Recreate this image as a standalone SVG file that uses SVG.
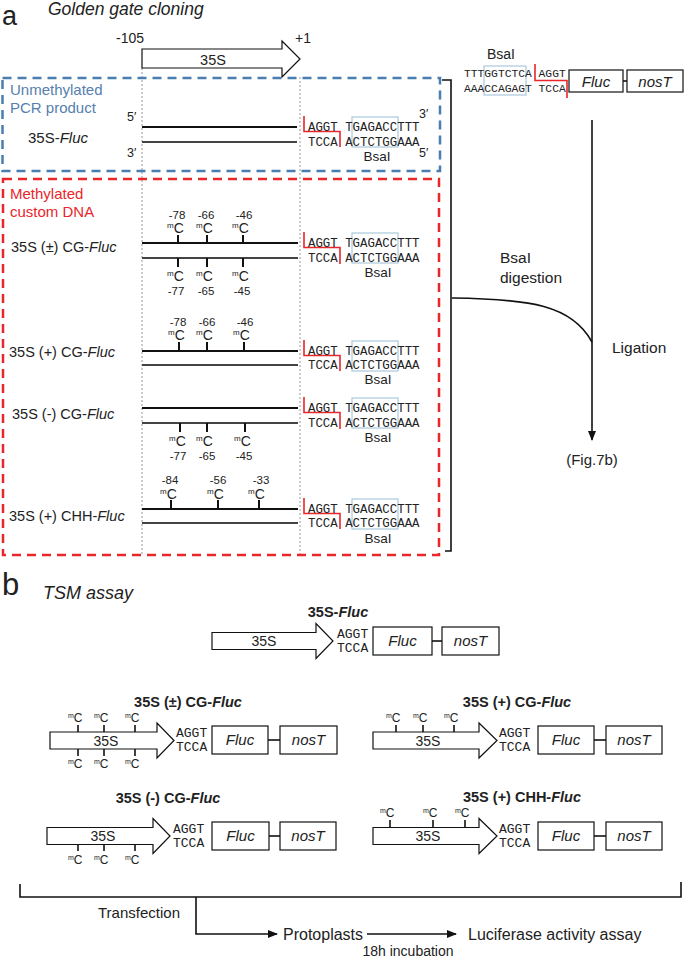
<svg xmlns="http://www.w3.org/2000/svg" width="685" height="958" viewBox="0 0 685 958">
<style>
text{font-family:"Liberation Sans",Arial,sans-serif;fill:#222}
.seq{font-family:"Liberation Mono","Courier New",monospace;font-size:12.4px}
.seqr{font-family:"Liberation Mono","Courier New",monospace;font-size:11.3px}
.seqb{font-family:"Liberation Mono","Courier New",monospace;font-size:13px}
.lbl{font-size:14.5px}
.bs{font-size:13.5px;text-anchor:middle}
.num{font-size:11.5px;text-anchor:middle}
.i{font-style:italic}
.s1{stroke:#111;stroke-width:2}
.s2{stroke:#444;stroke-width:2}
.tick{stroke:#111;stroke-width:2}
.tk{stroke:#111;stroke-width:1.6}
.cut{fill:none;stroke:#e8262b;stroke-width:1.6}
.site{fill:none;stroke:#a9c9dc;stroke-width:1.2}
.dot{stroke:#999;stroke-width:1;stroke-dasharray:2,2}
.arr{fill:#fff;stroke:#111;stroke-width:1.2}
.box{fill:#fff;stroke:#111;stroke-width:1.2}
.con{fill:none;stroke:#111;stroke-width:1.6}
.bt{font-size:14.5px;font-weight:bold;text-anchor:middle}
.gn{font-size:15px;font-style:italic;text-anchor:middle}
.p35{font-size:14px;text-anchor:middle}
</style>
<defs>
<marker id="ah" markerWidth="10" markerHeight="10" refX="9" refY="5" orient="auto" markerUnits="userSpaceOnUse">
<path d="M0,1 L10,5 L0,9 Z" fill="#111"/>
</marker>
</defs>

<g id="title-a">
<text x="2" y="24.5" font-size="27">a</text>
<text x="48" y="15" font-size="17.5" class="i">Golden gate cloning</text>
</g>

<g id="guides">
<line x1="142" y1="68" x2="142" y2="556" class="dot"/>
<line x1="300" y1="77" x2="300" y2="556" class="dot"/>
</g>

<g id="promoter-a">
<path d="M142,49 H282 V41 L300,59 L282,77 V68 H142 Z" class="arr"/>
<text x="213" y="65" font-size="14.5" text-anchor="middle">35S</text>
<text x="116" y="43" font-size="14">-105</text>
<text x="295" y="43" font-size="14">+1</text>
</g>

<g id="unmethylated">
<rect x="2.5" y="78" width="437.5" height="93" fill="none" stroke="#4a7db0" stroke-width="2.5" stroke-dasharray="9,6"/>
<text x="10" y="95" font-size="15" style="fill:#5580b0">Unmethylated</text>
<text x="10" y="113" font-size="15" style="fill:#5580b0">PCR product</text>
<text x="28" y="143" font-size="15">35S-<tspan class="i">Fluc</tspan></text>
<text x="127" y="121" font-size="12.5">5′</text>
<text x="127" y="157" font-size="12.5">3′</text>
<line x1="142" y1="127" x2="297" y2="127" class="s1"/>
<line x1="142" y1="142" x2="297" y2="142" class="s2"/>
<path d="M304,116 V131.5 H340 V147" class="cut"/>
<rect x="352" y="117" width="46" height="30" class="site"/>
<text x="308" y="131" class="seq">AGGT TGAGACCTTT</text>
<text x="308" y="146" class="seq">TCCA ACTCTGGAAA</text>
<text x="377" y="161" class="bs">BsaI</text>
<text x="419" y="118" font-size="12.5">3′</text>
<text x="419" y="157" font-size="12.5">5′</text>
</g>

<g id="methylated">
<rect x="3" y="179" width="436" height="376" fill="none" stroke="#e8262b" stroke-width="2.5" stroke-dasharray="9,6"/>
<text x="10" y="199" font-size="15" style="fill:#e8262b">Methylated</text>
<text x="10" y="217" font-size="15" style="fill:#e8262b">custom DNA</text>
</g>

<g id="g1">
<text x="11" y="252" class="lbl">35S (±) CG-<tspan class="i">Fluc</tspan></text>
<line x1="142" y1="243" x2="298" y2="243" class="s1"/>
<line x1="142" y1="258" x2="298" y2="258" class="s2"/>
<line x1="178" y1="235" x2="178" y2="243" class="tick"/>
<line x1="207" y1="235" x2="207" y2="243" class="tick"/>
<line x1="243" y1="235" x2="243" y2="243" class="tick"/>
<text x="167" y="233"><tspan font-size="8" dy="-5">m</tspan><tspan font-size="14" dy="5">C</tspan></text>
<text x="196" y="233"><tspan font-size="8" dy="-5">m</tspan><tspan font-size="14" dy="5">C</tspan></text>
<text x="232" y="233"><tspan font-size="8" dy="-5">m</tspan><tspan font-size="14" dy="5">C</tspan></text>
<text x="177" y="219" class="num">-78</text>
<text x="206" y="219" class="num">-66</text>
<text x="244" y="219" class="num">-46</text>
<line x1="178" y1="258" x2="178" y2="267" class="tick"/>
<line x1="207" y1="258" x2="207" y2="267" class="tick"/>
<line x1="243" y1="258" x2="243" y2="267" class="tick"/>
<text x="167" y="281"><tspan font-size="8" dy="-5">m</tspan><tspan font-size="14" dy="5">C</tspan></text>
<text x="196" y="281"><tspan font-size="8" dy="-5">m</tspan><tspan font-size="14" dy="5">C</tspan></text>
<text x="232" y="281"><tspan font-size="8" dy="-5">m</tspan><tspan font-size="14" dy="5">C</tspan></text>
<text x="176" y="295" class="num">-77</text>
<text x="206" y="295" class="num">-65</text>
<text x="242" y="295" class="num">-45</text>
<path d="M304,232 V247.5 H340 V264" class="cut"/>
<rect x="352" y="233" width="46" height="30" class="site"/>
<text x="308" y="247" class="seq">AGGT TGAGACCTTT</text>
<text x="308" y="262" class="seq">TCCA ACTCTGGAAA</text>
<text x="378" y="277" class="bs">BsaI</text>
</g>

<g id="g2">
<text x="9" y="357" class="lbl">35S (+) CG-<tspan class="i">Fluc</tspan></text>
<line x1="142" y1="351" x2="298" y2="351" class="s1"/>
<line x1="142" y1="365" x2="298" y2="365" class="s2"/>
<line x1="179" y1="342" x2="179" y2="351" class="tick"/>
<line x1="207" y1="342" x2="207" y2="351" class="tick"/>
<line x1="244" y1="342" x2="244" y2="351" class="tick"/>
<text x="168" y="340"><tspan font-size="8" dy="-5">m</tspan><tspan font-size="14" dy="5">C</tspan></text>
<text x="196" y="340"><tspan font-size="8" dy="-5">m</tspan><tspan font-size="14" dy="5">C</tspan></text>
<text x="233" y="340"><tspan font-size="8" dy="-5">m</tspan><tspan font-size="14" dy="5">C</tspan></text>
<text x="178" y="326" class="num">-78</text>
<text x="207" y="326" class="num">-66</text>
<text x="245" y="326" class="num">-46</text>
<path d="M304,340 V355.5 H340 V371" class="cut"/>
<rect x="352" y="341" width="46" height="30" class="site"/>
<text x="308" y="355" class="seq">AGGT TGAGACCTTT</text>
<text x="308" y="369" class="seq">TCCA ACTCTGGAAA</text>
<text x="378" y="384" class="bs">BsaI</text>
</g>

<g id="g3">
<text x="12" y="419" class="lbl">35S (-) CG-<tspan class="i">Fluc</tspan></text>
<line x1="142" y1="408" x2="298" y2="408" class="s1"/>
<line x1="142" y1="423" x2="298" y2="423" class="s2"/>
<line x1="180" y1="423" x2="180" y2="432" class="tick"/>
<line x1="207" y1="423" x2="207" y2="432" class="tick"/>
<line x1="245" y1="423" x2="245" y2="432" class="tick"/>
<text x="169" y="446"><tspan font-size="8" dy="-5">m</tspan><tspan font-size="14" dy="5">C</tspan></text>
<text x="196" y="446"><tspan font-size="8" dy="-5">m</tspan><tspan font-size="14" dy="5">C</tspan></text>
<text x="234" y="446"><tspan font-size="8" dy="-5">m</tspan><tspan font-size="14" dy="5">C</tspan></text>
<text x="178" y="460" class="num">-77</text>
<text x="207" y="460" class="num">-65</text>
<text x="244" y="460" class="num">-45</text>
<path d="M304,397 V412.5 H340 V429" class="cut"/>
<rect x="352" y="398" width="46" height="30" class="site"/>
<text x="308" y="412" class="seq">AGGT TGAGACCTTT</text>
<text x="308" y="427" class="seq">TCCA ACTCTGGAAA</text>
<text x="378" y="442" class="bs">BsaI</text>
</g>

<g id="g4">
<text x="9" y="521" class="lbl">35S (+) CHH-<tspan class="i">Fluc</tspan></text>
<line x1="142" y1="509" x2="298" y2="509" class="s1"/>
<line x1="142" y1="523" x2="298" y2="523" class="s2"/>
<line x1="171" y1="500" x2="171" y2="509" class="tick"/>
<line x1="218" y1="500" x2="218" y2="509" class="tick"/>
<line x1="259" y1="500" x2="259" y2="509" class="tick"/>
<text x="160" y="498.5"><tspan font-size="8" dy="-5">m</tspan><tspan font-size="14" dy="5">C</tspan></text>
<text x="207" y="498.5"><tspan font-size="8" dy="-5">m</tspan><tspan font-size="14" dy="5">C</tspan></text>
<text x="248" y="498.5"><tspan font-size="8" dy="-5">m</tspan><tspan font-size="14" dy="5">C</tspan></text>
<text x="170" y="484" class="num">-84</text>
<text x="218" y="484" class="num">-56</text>
<text x="261" y="484" class="num">-33</text>
<path d="M304,498 V513.5 H340 V529" class="cut"/>
<rect x="352" y="499" width="46" height="30" class="site"/>
<text x="308" y="513" class="seq">AGGT TGAGACCTTT</text>
<text x="308" y="527" class="seq">TCCA ACTCTGGAAA</text>
<text x="378" y="543" class="bs">BsaI</text>
</g>

<g id="vector">
<text x="487" y="59" font-size="14">BsaI</text>
<rect x="484" y="66" width="42" height="29" class="site"/>
<text x="464" y="77" class="seqr">TTTGGTCTCA AGGT</text>
<text x="464" y="92" class="seqr">AAACCAGAGT TCCA</text>
<path d="M535,64 V80.5 H567 V98" class="cut"/>
<rect x="569" y="70" width="54" height="22" class="box"/>
<text x="596" y="86.5" class="gn">Fluc</text>
<line x1="623" y1="81" x2="627" y2="81" class="con"/>
<rect x="627" y="70" width="56" height="22" class="box"/>
<text x="655" y="86.5" class="gn">nosT</text>
</g>

<g id="connectors-a">
<path d="M442,80 H451 V551 H445" class="con"/>
<path d="M452,298 C530,299 572,305 592,342" class="con" stroke-width="2"/>
<line x1="592" y1="120" x2="592" y2="440" class="con" stroke-width="1.8" marker-end="url(#ah)"/>
</g>
<g id="labels-a">
<text x="500" y="263" font-size="15.5">BsaI</text>
<text x="500" y="283" font-size="15.5">digestion</text>
<text x="612" y="353" font-size="15.5">Ligation</text>
<text x="592" y="465" font-size="15" text-anchor="middle">(Fig.7b)</text>
</g>

<g id="title-b">
<text x="2" y="595" font-size="31">b</text>
<text x="43" y="599" font-size="18" class="i">TSM assay</text>
</g>

<g id="b-35S-Fluc">
<text x="338" y="617" class="bt">35S-<tspan class="i">Fluc</tspan></text>
<path d="M212,632.5 H316 V623.5 L333,641 L316,658.5 V649.5 H212 Z" class="arr"/>
<text x="264" y="646" class="p35">35S</text>
<text x="337" y="638" class="seqb">AGGT</text>
<text x="337" y="652" class="seqb">TCCA</text>
<rect x="373" y="627" width="59" height="28" class="box"/>
<text x="402.5" y="646" class="gn">Fluc</text>
<line x1="432" y1="641" x2="442" y2="641" class="con" stroke-width="2"/>
<rect x="442" y="627" width="57" height="28" class="box"/>
<text x="470.5" y="646" class="gn">nosT</text>
</g>

<g id="b-pm-CG">
<text x="188" y="707" class="bt">35S (±) CG-<tspan class="i">Fluc</tspan></text>
<path d="M50,732 H157 V723 L174,740.5 L157,758 V749 H50 Z" class="arr"/>
<text x="106" y="745.5" class="p35">35S</text>
<line x1="78" y1="725" x2="78" y2="732" class="tk"/>
<line x1="104" y1="725" x2="104" y2="732" class="tk"/>
<line x1="135" y1="725" x2="135" y2="732" class="tk"/>
<line x1="78" y1="749" x2="78" y2="756" class="tk"/>
<line x1="104" y1="749" x2="104" y2="756" class="tk"/>
<line x1="135" y1="749" x2="135" y2="756" class="tk"/>
<text x="68" y="722"><tspan font-size="7" dy="-4">m</tspan><tspan font-size="12" dy="4">C</tspan></text>
<text x="94" y="722"><tspan font-size="7" dy="-4">m</tspan><tspan font-size="12" dy="4">C</tspan></text>
<text x="125" y="722"><tspan font-size="7" dy="-4">m</tspan><tspan font-size="12" dy="4">C</tspan></text>
<text x="68" y="768"><tspan font-size="7" dy="-4">m</tspan><tspan font-size="12" dy="4">C</tspan></text>
<text x="94" y="768"><tspan font-size="7" dy="-4">m</tspan><tspan font-size="12" dy="4">C</tspan></text>
<text x="125" y="768"><tspan font-size="7" dy="-4">m</tspan><tspan font-size="12" dy="4">C</tspan></text>
<text x="176" y="737" class="seqb">AGGT</text>
<text x="176" y="751" class="seqb">TCCA</text>
<rect x="212" y="726" width="56" height="28" class="box"/>
<text x="240" y="745" class="gn">Fluc</text>
<line x1="268" y1="740" x2="280" y2="740" class="con" stroke-width="2"/>
<rect x="280" y="726" width="57" height="28" class="box"/>
<text x="308.5" y="745" class="gn">nosT</text>
</g>

<g id="b-p-CG">
<text x="517" y="707" class="bt">35S (+) CG-<tspan class="i">Fluc</tspan></text>
<path d="M373,732 H479 V723 L497,740.5 L479,758 V749 H373 Z" class="arr"/>
<text x="428" y="745.5" class="p35">35S</text>
<line x1="396" y1="725" x2="396" y2="732" class="tk"/>
<line x1="423" y1="725" x2="423" y2="732" class="tk"/>
<line x1="454" y1="725" x2="454" y2="732" class="tk"/>
<text x="386" y="722"><tspan font-size="7" dy="-4">m</tspan><tspan font-size="12" dy="4">C</tspan></text>
<text x="413" y="722"><tspan font-size="7" dy="-4">m</tspan><tspan font-size="12" dy="4">C</tspan></text>
<text x="444" y="722"><tspan font-size="7" dy="-4">m</tspan><tspan font-size="12" dy="4">C</tspan></text>
<text x="499" y="737" class="seqb">AGGT</text>
<text x="499" y="751" class="seqb">TCCA</text>
<rect x="538" y="726" width="56" height="28" class="box"/>
<text x="566" y="745" class="gn">Fluc</text>
<line x1="594" y1="740" x2="606" y2="740" class="con" stroke-width="2"/>
<rect x="606" y="726" width="56" height="28" class="box"/>
<text x="634" y="745" class="gn">nosT</text>
</g>

<g id="b-m-CG">
<text x="168" y="803" class="bt">35S (-) CG-<tspan class="i">Fluc</tspan></text>
<path d="M47,827.5 H153 V818.5 L170,836 L153,853.5 V844.5 H47 Z" class="arr"/>
<text x="103" y="841" class="p35">35S</text>
<line x1="78" y1="844.5" x2="78" y2="851" class="tk"/>
<line x1="104" y1="844.5" x2="104" y2="851" class="tk"/>
<line x1="135" y1="844.5" x2="135" y2="851" class="tk"/>
<text x="68" y="864"><tspan font-size="7" dy="-4">m</tspan><tspan font-size="12" dy="4">C</tspan></text>
<text x="94" y="864"><tspan font-size="7" dy="-4">m</tspan><tspan font-size="12" dy="4">C</tspan></text>
<text x="125" y="864"><tspan font-size="7" dy="-4">m</tspan><tspan font-size="12" dy="4">C</tspan></text>
<text x="173" y="833" class="seqb">AGGT</text>
<text x="173" y="847" class="seqb">TCCA</text>
<rect x="212" y="822" width="57" height="28" class="box"/>
<text x="240.5" y="841" class="gn">Fluc</text>
<line x1="269" y1="836" x2="280" y2="836" class="con" stroke-width="2"/>
<rect x="280" y="822" width="56" height="28" class="box"/>
<text x="308" y="841" class="gn">nosT</text>
</g>

<g id="b-p-CHH">
<text x="522" y="802" class="bt">35S (+) CHH-<tspan class="i">Fluc</tspan></text>
<path d="M373,827.5 H479 V818.5 L497,836 L479,853.5 V844.5 H373 Z" class="arr"/>
<text x="428" y="841" class="p35">35S</text>
<line x1="390" y1="820" x2="390" y2="827.5" class="tk"/>
<line x1="433" y1="820" x2="433" y2="827.5" class="tk"/>
<line x1="465" y1="820" x2="465" y2="827.5" class="tk"/>
<text x="380" y="817"><tspan font-size="7" dy="-4">m</tspan><tspan font-size="12" dy="4">C</tspan></text>
<text x="423" y="817"><tspan font-size="7" dy="-4">m</tspan><tspan font-size="12" dy="4">C</tspan></text>
<text x="455" y="817"><tspan font-size="7" dy="-4">m</tspan><tspan font-size="12" dy="4">C</tspan></text>
<text x="499" y="833" class="seqb">AGGT</text>
<text x="499" y="847" class="seqb">TCCA</text>
<rect x="538" y="822" width="56" height="28" class="box"/>
<text x="566" y="841" class="gn">Fluc</text>
<line x1="594" y1="836" x2="606" y2="836" class="con" stroke-width="2"/>
<rect x="606" y="822" width="56" height="28" class="box"/>
<text x="634" y="841" class="gn">nosT</text>
</g>

<g id="connectors-b">
<path d="M20,884 V897 H681 V882" class="con"/>
<path d="M196,897 V934 H277" class="con" marker-end="url(#ah)"/>
<path d="M367,934 H456" class="con" marker-end="url(#ah)"/>
</g>
<g id="labels-b">
<text x="98" y="918" font-size="15">Transfection</text>
<text x="283" y="940" font-size="16">Protoplasts</text>
<text x="468" y="940" font-size="16">Luciferase activity assay</text>
<text x="408" y="956" font-size="14" text-anchor="middle">18h incubation</text>
</g>
</svg>
